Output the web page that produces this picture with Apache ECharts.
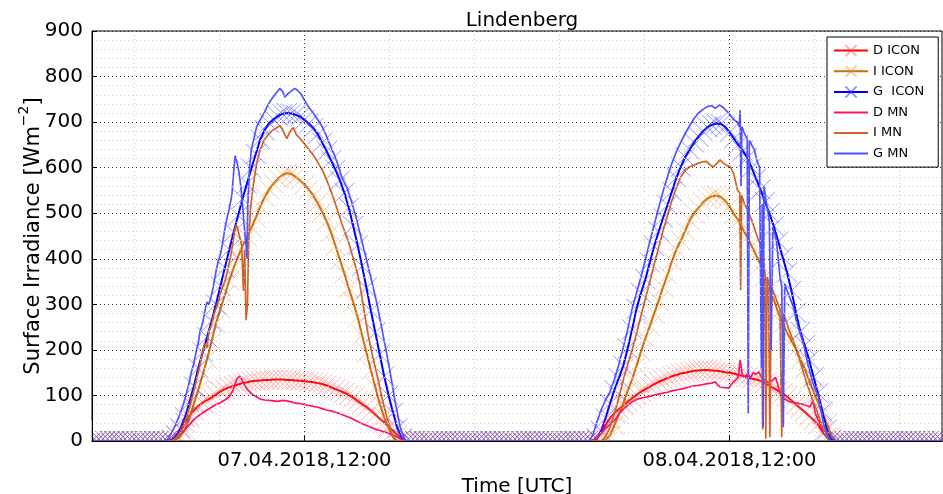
<!DOCTYPE html>
<html>
<head>
<meta charset="utf-8">
<script src="https://cdn.jsdelivr.net/npm/echarts@6/dist/echarts.min.js"></script>
<style>
html, body { margin: 0; padding: 0; background: #fff; }
#chart { width: 943px; height: 494px; }
</style>
</head>
<body>
<div id="chart"></div>
<script>
// Lindenberg surface irradiance, 07.04.2018 00:00 UTC to 09.04.2018 00:00 UTC.
// Time is given in hours since 07.04.2018 00:00 UTC.

// ICON model output, one value every 15 minutes.
const ICON_STEP_H = 0.25;
const iconNightEarly = [0,0,0,0,0,0,0,0, 0,0,0,0,0,0,0,0, 0];                 // 00:00 .. 04:00
const iconNightMid = [0,0,0,0,0,0,0,0, 0,0,0,0,0,0,0,0, 0,0,0,0,0,0,0,0,
                      0,0,0,0,0,0,0,0, 0,0,0,0,0,0,0,0, 0];                     // 18:00 .. 04:00
const iconNightLate = [0,0,0,0,0,0,0,0, 0,0,0,0,0,0,0,0, 0,0,0,0,0,0,0,0];      // 18:15 .. 24:00

// day 1, 04:15 .. 17:45
const dIconDay1 = [0,3,12,25,40,55,67,77, 84,90,95,102,109,114,118,121, 124,127,129,131,132,133,134,134,
                   135,135,135,134,134,133,132,131, 130,129,127,125,122,118,114,110, 106,101,95,88,81,75,67,58,
                   49,41,32,22,12,4,0];
const iIconDay1 = [0,0,3,10,25,50,82,112, 145,180,218,258,290,320,352,380, 405,428,448,468,490,515,535,552,
                   565,576,584,588,586,580,572,563, 552,538,522,503,482,458,428,398, 368,335,305,272,232,194,155,118,
                   82,52,28,8,0,0,0];
const gIconDay1 = [0,2,12,28,52,85,120,160, 195,228,263,300,340,380,420,458, 495,532,565,598,630,662,682,698,
                   706,713,718,720,719,716,712,705, 697,687,673,655,636,616,595,572, 545,512,472,430,384,336,286,238,
                   190,142,100,62,28,6,0];
// day 2, 04:15 .. 18:00
const dIconDay2 = [0,5,18,35,50,62,70,78, 86,94,101,108,114,119,125,130, 134,138,142,145,148,150,152,154,
                   155,156,156,155,154,153,151,150, 148,145,143,140,137,135,132,127, 121,116,110,105,97,89,80,72,
                   64,55,46,36,20,8,0,0];
const iIconDay2 = [0,0,0,3,12,35,58,82, 110,135,165,196,225,252,280,308, 338,365,395,420,440,462,484,500,
                   512,524,532,537,539,536,528,515, 498,485,466,447,428,408,388,362, 335,310,282,258,238,220,202,180,
                   158,133,108,85,60,38,12,0];
const gIconDay2 = [0,5,22,50,82,112,138,165, 203,245,290,325,355,392,428,460, 490,518,548,578,602,623,640,655,
                   668,680,689,694,697,696,690,678, 664,650,637,622,600,576,552,525, 500,472,438,404,370,330,282,240,
                   210,178,140,105,65,25,3,0];

// Station measurements [hour, W/m2]
const dMnDay1 = [[4.5,0],[4.75,5],[5.0,15],[5.25,25],[5.5,36],[5.75,47],[6.0,55],[6.25,62],[6.5,68],[6.75,74],
  [7.0,80],[7.25,84],[7.5,90],[7.75,97],[7.95,110],[8.1,128],[8.2,138],[8.35,142],[8.5,132],[8.65,120],[8.8,112],
  [9.0,104],[9.25,98],[9.5,92],[9.75,90],[10.0,89],[10.25,88],[10.5,87],[10.75,89],[11.0,88],[11.25,86],[11.5,83],
  [11.75,82],[12.0,80],[12.25,78],[12.5,76],[12.75,74],[13.0,71],[13.25,68],[13.5,66],[13.75,63],[14.0,60],
  [14.25,56],[14.5,52],[14.75,48],[15.0,43],[15.25,38],[15.5,34],[15.75,30],[16.0,26],[16.25,23],[16.5,20],
  [16.75,17],[17.0,13],[17.25,8],[17.5,3],[17.7,0]];
const iMnDay1 = [[4.5,0],[4.75,5],[5.0,18],[5.25,40],[5.5,72],[5.75,110],[6.0,150],[6.2,185],[6.35,215],[6.5,205],
  [6.6,240],[6.75,255],[6.9,280],[7.1,300],[7.3,330],[7.5,350],[7.7,380],[7.9,420],[8.05,460],[8.15,475],[8.3,455],
  [8.45,430],[8.55,330],[8.62,420],[8.7,265],[8.78,300],[8.85,440],[8.95,510],[9.1,560],[9.3,610],[9.5,640],
  [9.75,662],[10.0,675],[10.25,683],[10.45,688],[10.62,692],[10.8,680],[11.0,664],[11.2,680],[11.36,688],
  [11.55,672],[11.75,664],[12.0,652],[12.2,642],[12.45,630],[12.7,615],[13.0,595],[13.25,573],[13.5,548],
  [13.8,514],[14.1,478],[14.45,441],[14.8,395],[15.1,350],[15.35,290],[15.6,232],[15.85,185],[16.1,145],
  [16.4,90],[16.65,52],[16.85,28],[17.05,5],[17.2,0]];
const gMnDay1 = [[4.0,0],[4.25,3],[4.5,18],[4.75,38],[5.0,62],[5.25,92],[5.5,130],[5.6,150],[5.75,170],[5.9,200],
  [6.0,215],[6.1,240],[6.25,260],[6.4,290],[6.5,305],[6.6,300],[6.75,320],[6.9,350],[7.0,372],[7.1,390],[7.25,410],
  [7.4,440],[7.5,465],[7.6,485],[7.75,510],[7.9,540],[8.0,590],[8.08,626],[8.2,610],[8.3,590],[8.4,560],[8.5,520],
  [8.6,470],[8.7,430],[8.75,400],[8.8,520],[8.9,600],[9.0,640],[9.15,665],[9.3,690],[9.5,705],[9.75,722],
  [9.9,735],[10.05,745],[10.25,756],[10.45,766],[10.6,774],[10.75,768],[10.9,755],[11.05,762],[11.25,768],
  [11.45,774],[11.6,770],[11.8,762],[12.0,748],[12.2,735],[12.45,722],[12.7,708],[13.0,690],[13.25,668],
  [13.5,645],[13.8,617],[14.1,580],[14.4,556],[14.7,520],[14.95,485],[15.2,445],[15.5,398],[15.8,350],
  [16.1,300],[16.4,240],[16.6,200],[16.85,148],[17.1,90],[17.4,31],[17.6,8],[17.75,0]];

const dMnDay2 = [[28.25,0],[28.5,5],[28.75,17],[29.0,28],[29.25,36],[29.5,45],[29.75,58],[30.0,70],[30.25,78],
  [30.5,86],[30.75,91],[31.0,94],[31.25,96],[31.5,98],[31.75,101],[32.0,103],[32.25,105],[32.5,107],[32.75,110],
  [33.0,112],[33.25,114],[33.5,116],[33.75,119],[34.0,121],[34.25,122],[34.5,124],[34.75,126],[35.0,127],
  [35.2,130],[35.35,122],[35.5,118],[35.75,117],[35.95,116],[36.1,124],[36.3,132],[36.5,140],[36.6,178],
  [36.7,150],[36.8,140],[37.0,146],[37.2,140],[37.35,150],[37.5,146],[37.65,152],[37.8,140],[38.0,133],
  [38.2,128],[38.4,132],[38.6,140],[38.75,120],[38.9,100],[39.1,92],[39.4,86],[39.8,83],[40.2,80],[40.55,75],
  [40.7,88],[40.85,60],[41.1,39],[41.3,20],[41.5,8],[41.7,0]];
const iMnDay2 = [[28.75,0],[29.0,10],[29.25,30],[29.5,60],[29.75,95],[30.0,134],[30.25,168],[30.5,200],
  [30.75,236],[31.0,275],[31.25,312],[31.5,350],[31.75,388],[32.0,425],[32.25,462],[32.5,495],[32.75,528],
  [33.0,556],[33.25,580],[33.5,594],[33.75,602],[34.0,606],[34.25,610],[34.5,613],[34.7,614],[34.9,606],
  [35.1,602],[35.3,610],[35.46,617],[35.65,610],[35.85,605],[36.05,602],[36.25,585],[36.45,551],[36.58,545],
  [36.63,331],[36.68,540],[36.85,520],[37.05,505],[37.25,485],[37.45,462],[37.6,445],[37.72,434],[37.8,400],
  [37.87,25],[37.93,390],[38.0,370],[38.05,5],[38.12,360],[38.2,350],[38.28,8],[38.36,340],[38.45,330],
  [38.55,320],[38.66,317],[38.75,300],[38.85,290],[38.95,8],[39.05,280],[39.24,258],[39.5,230],[39.79,200],
  [40.1,160],[40.36,127],[40.65,95],[40.92,68],[41.2,35],[41.49,9],[41.65,0]];
const gMnDay2 = [[28.1,0],[28.3,15],[28.5,40],[28.75,68],[29.0,90],[29.25,108],[29.5,135],[29.75,168],[30.0,205],
  [30.25,245],[30.5,290],[30.75,325],[31.0,360],[31.25,398],[31.5,438],[31.75,475],[32.0,512],[32.25,548],
  [32.5,580],[32.75,610],[33.0,635],[33.25,656],[33.5,675],[33.75,692],[34.0,708],[34.25,720],[34.5,728],
  [34.75,734],[35.0,736],[35.2,730],[35.45,738],[35.65,732],[35.85,724],[36.05,715],[36.25,705],[36.45,700],
  [36.55,690],[36.6,726],[36.65,560],[36.7,690],[36.8,680],[36.9,670],[37.0,665],[37.06,60],[37.12,660],
  [37.25,650],[37.4,640],[37.55,615],[37.7,600],[37.8,160],[37.85,520],[37.9,30],[37.95,560],[38.05,530],
  [38.15,510],[38.25,480],[38.35,200],[38.45,470],[38.55,455],[38.65,440],[38.75,400],[38.85,360],[38.95,340],
  [39.04,30],[39.12,345],[39.25,330],[39.4,315],[39.6,295],[39.8,260],[40.0,235],[40.2,210],[40.45,165],
  [40.7,128],[40.9,108],[41.0,100],[41.15,70],[41.3,39],[41.5,15],[41.7,0]];

// Axis ticks
const xTickValues = [12, 36];
const xTickLabels = ['07.04.2018,12:00', '08.04.2018,12:00'];
const xMinorValues = [2.4, 7.2, 16.8, 21.6, 26.4, 31.2, 40.8, 45.6];

const seriesNames = ['D ICON', 'I ICON', 'G  ICON', 'D MN', 'I MN', 'G MN'];

function iconSeriesData(day1, day2) {
  const values = [].concat(iconNightEarly, day1, iconNightMid, day2, iconNightLate);
  return values.map((v, i) => [i * ICON_STEP_H, v]);
}
function mnSeriesData(day1, day2) {
  return [[0, 0]].concat(day1, day2, [[48, 0]]);
}

const X_MARK = 'path://M0,0L10,10M10,0L0,10';
const FONT = 'DejaVu Sans';

function iconSeries(name, data, lineColor, markColor) {
  return {
    type: 'line', name: name, data: data,
    symbol: X_MARK, symbolSize: 20, showSymbol: true, showAllSymbol: true,
    lineStyle: { color: lineColor, width: 2 },
    itemStyle: { color: 'rgba(0,0,0,0)', borderColor: markColor, borderWidth: 1 },
    emphasis: { disabled: true }, silent: true, z: 2
  };
}
function mnSeries(name, data, color) {
  return {
    type: 'line', name: name, data: data, symbol: 'none',
    lineStyle: { color: color, width: 1.7 },
    itemStyle: { color: color },
    emphasis: { disabled: true }, silent: true, z: 3
  };
}

const chart = echarts.init(document.getElementById('chart'), null, { renderer: 'canvas' });
chart.setOption({
  animation: false,
  backgroundColor: '#fff',
  textStyle: { fontFamily: FONT, color: '#000' },
  title: {
    text: 'Lindenberg', left: 517, top: 6, textAlign: 'center',
    textStyle: { fontFamily: FONT, fontSize: 20, fontWeight: 'normal', color: '#000' }
  },
  grid: {
    left: 92, right: 1, top: 31, bottom: 53,
    containLabel: false, outerBoundsMode: 'none',
    show: true, borderColor: '#000', borderWidth: 1, backgroundColor: 'rgba(0,0,0,0)'
  },
  legend: {
    data: seriesNames.map((n, i) => i < 3 ? { name: n } : { name: n, itemStyle: { opacity: 0 } }),
    orient: 'vertical', left: 827, top: 37,
    itemWidth: 34, itemHeight: 14, itemGap: 7.5,
    padding: [7, 14, 7, 6],
    backgroundColor: '#fff', borderColor: '#000', borderWidth: 1, borderRadius: 0,
    textStyle: { fontFamily: FONT, fontSize: 13, color: '#000' },
    z: 80
  },
  xAxis: [
    {
      type: 'value', min: 0, max: 48, position: 'bottom', z: 60,
      axisLine: { show: true, onZero: false, lineStyle: { color: '#000', width: 1 } },
      axisTick: { show: true, inside: true, length: 5, customValues: xTickValues, lineStyle: { color: '#000' } },
      axisLabel: {
        customValues: xTickValues, margin: 10, fontSize: 19.5, color: '#000', fontFamily: FONT,
        formatter: v => xTickLabels[xTickValues.indexOf(v)] || ''
      },
      splitLine: { show: true, lineStyle: { color: '#333', width: 1, type: [1, 3] } },
      name: 'Time [UTC]', nameLocation: 'middle', nameGap: 36,
      nameTextStyle: { fontFamily: FONT, fontSize: 20, color: '#000' }
    },
    {
      type: 'value', min: 0, max: 48, position: 'top',
      axisLine: { show: false }, axisLabel: { show: false },
      axisTick: { show: false, customValues: xMinorValues },
      splitLine: { show: true, lineStyle: { color: '#c8c8c8', width: 1, type: [1, 3] } }
    }
  ],
  yAxis: {
    type: 'value', min: 0, max: 900, interval: 100, z: 60,
    axisLine: { show: true, onZero: false, lineStyle: { color: '#000', width: 1 } },
    axisTick: { show: true, inside: true, length: 5, lineStyle: { color: '#000' } },
    axisLabel: { margin: 9, fontSize: 20, color: '#000', fontFamily: FONT },
    splitLine: { show: true, lineStyle: { color: '#333', width: 1, type: [1, 3] } },
    minorTick: { show: false, splitNumber: 5 },
    minorSplitLine: { show: true, lineStyle: { color: '#cfcfcf', width: 1, type: [1, 3] } },
    name: '{t|Surface Irradiance [Wm}{s|\u22122}{t|]}', nameLocation: 'middle', nameGap: 48,
    nameMoveOverlap: false,
    nameTextStyle: {
      fontFamily: FONT, fontSize: 21, color: '#000',
      rich: {
        t: { fontFamily: FONT, fontSize: 21, color: '#000', verticalAlign: 'bottom', lineHeight: 27 },
        s: { fontFamily: FONT, fontSize: 14, color: '#000', verticalAlign: 'top', lineHeight: 27 }
      }
    }
  },
  // white bands hiding the marker parts that fall outside the plot area
  graphic: {
    elements: [
      { type: 'rect', silent: true, z: 50, shape: { x: 60, y: 441.5, width: 883, height: 11 }, style: { fill: '#fff' } },
      { type: 'rect', silent: true, z: 50, shape: { x: 80, y: 420, width: 11.5, height: 33 }, style: { fill: '#fff' } }
    ]
  },
  series: [
    iconSeries('D ICON', iconSeriesData(dIconDay1, dIconDay2), '#ff0000', 'rgba(255,60,60,0.38)'),
    iconSeries('I ICON', iconSeriesData(iIconDay1, iIconDay2), '#cc6d0a', 'rgba(225,140,50,0.42)'),
    iconSeries('G  ICON', iconSeriesData(gIconDay1, gIconDay2), '#0000ff', 'rgba(40,40,255,0.5)'),
    mnSeries('D MN', mnSeriesData(dMnDay1, dMnDay2), '#ff1464'),
    mnSeries('I MN', mnSeriesData(iMnDay1, iMnDay2), '#cf6229'),
    mnSeries('G MN', mnSeriesData(gMnDay1, gMnDay2), '#5252ff')
  ]
});
</script>
</body>
</html>
